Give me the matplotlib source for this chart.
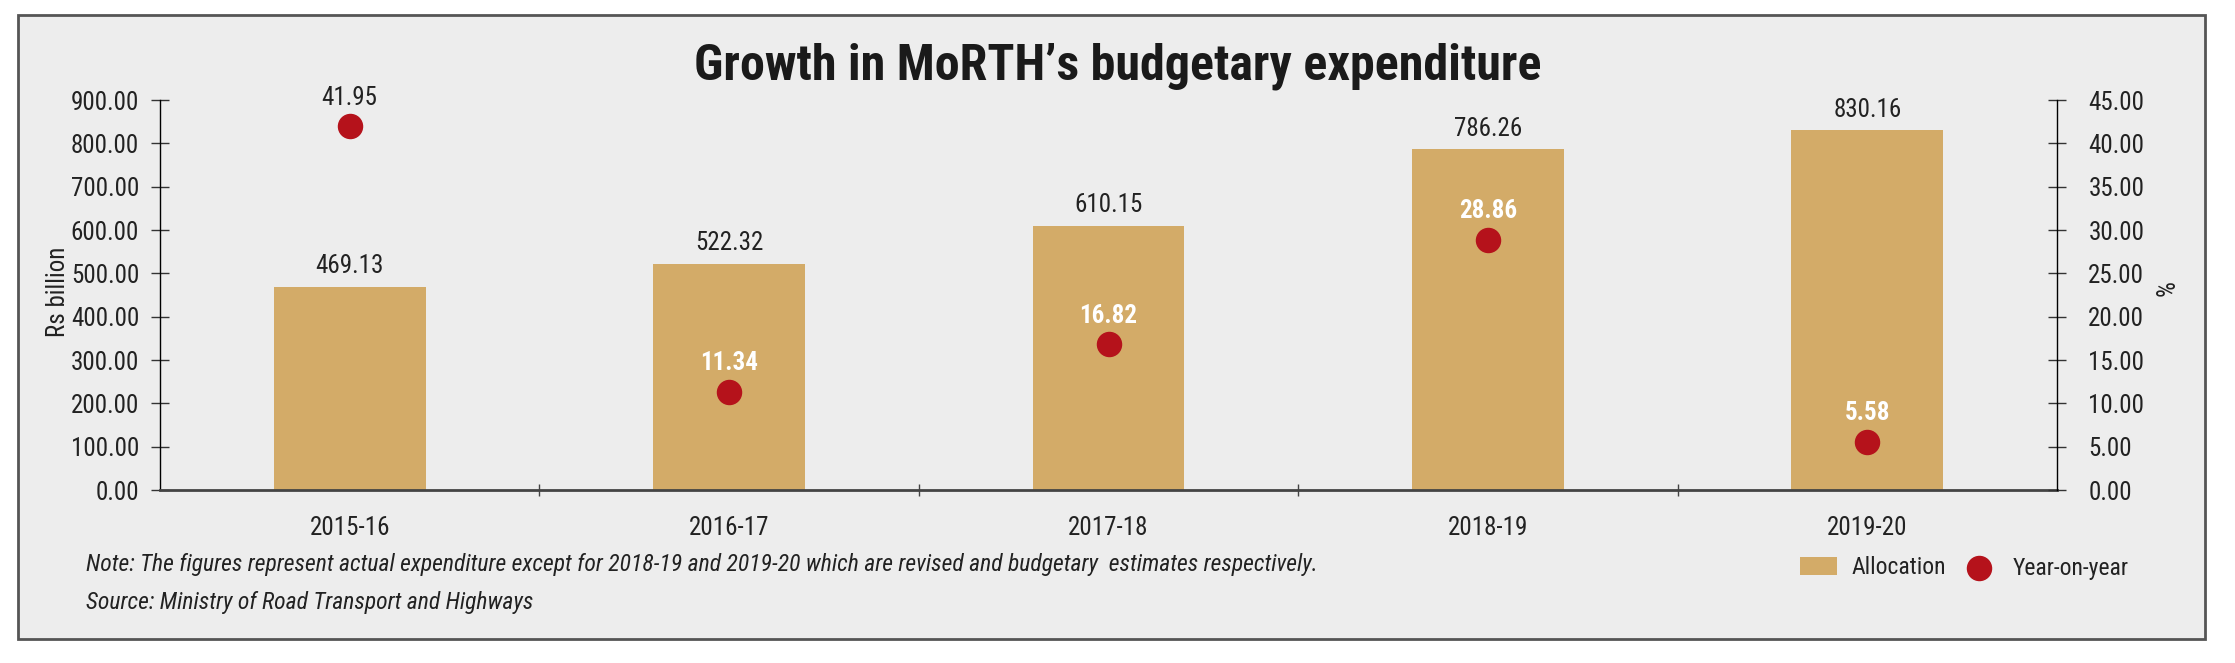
import numpy as np
import matplotlib
matplotlib.use("Agg")
import matplotlib.pyplot as plt
from matplotlib import font_manager
from matplotlib.patches import Rectangle

# data
years = ["2015-16", "2016-17", "2017-18", "2018-19", "2019-20"]
allocation = [469.13, 522.32, 610.15, 786.26, 830.16]   # Rs billion
yoy = [41.95, 11.34, 16.82, 28.86, 5.58]                # %

left_ticks = np.arange(0, 901, 100)
right_ticks = np.arange(0, 46, 5)

# pick a narrow font if there is one
names = {f.name for f in font_manager.fontManager.ttflist}
narrow = "DejaVu Sans"
for n in ["Liberation Sans Narrow", "Roboto Condensed", "Liberation Sans", "Arimo"]:
    if n in names:
        narrow = n
        break
is_narrow = narrow in ("Liberation Sans Narrow", "Roboto Condensed")
k = 1.0 if is_narrow else 0.82   # shrink text when no narrow face exists

plt.rcParams['font.family'] = [narrow, 'DejaVu Sans']

bar_col = '#D3AB68'
dot_col = '#B5121B'
txt_col = '#222222'
bg_col = '#EDEDED'

W, H = 2235, 663
fig = plt.figure(figsize=(W / 100, H / 100), dpi=100)
fig.patch.set_facecolor('white')

# grey panel with border
panel = Rectangle((18 / W, 1 - 639 / H), (2205 - 18) / W, (639 - 15) / H,
                  transform=fig.transFigure, facecolor=bg_col,
                  edgecolor='#555555', lw=2, zorder=-10)
fig.patches.append(panel)

ax = fig.add_axes([160 / W, 1 - 490 / H, (2057 - 160) / W, 390 / H])
ax.set_facecolor('none')
x = np.arange(len(years))
bars = ax.bar(x, allocation, width=0.4, color=bar_col, zorder=2, label='Allocation')
ax.set_xlim(-0.5, len(years) - 0.5)
ax.set_ylim(0, 900)
ax.set_yticks(left_ticks)
ax.set_yticklabels([f"{v:.2f}" for v in left_ticks])
ax.set_xticks(x)
ax.set_xticklabels(years)
ax.set_xticks(x[:-1] + 0.5, minor=True)
ax.tick_params(axis='x', which='major', length=0, pad=19, labelsize=18 * k, colors=txt_col)
ax.tick_params(axis='x', which='minor', direction='inout', length=8, width=1, color='#444444')
ax.tick_params(axis='y', direction='inout', length=13, width=1, pad=8.5,
               labelsize=18 * k, colors='#333333', labelcolor=txt_col)
for s in ['top', 'right']:
    ax.spines[s].set_visible(False)
ax.spines['bottom'].set_color('#444444')
ax.spines['bottom'].set_linewidth(2)
ax.spines['left'].set_color('black')
ax.spines['left'].set_linewidth(1)
ax.set_ylabel("Rs billion", fontsize=18 * k, color=txt_col)
ax.yaxis.label.set_va('center')
ax.yaxis.set_label_coords(58 / W, 1 - 292 / H, transform=fig.transFigure)

for xi, v in zip(x, allocation):
    ax.annotate(f"{v:.2f}", (xi, v), xytext=(0, 6), textcoords='offset points',
                ha='center', va='bottom', fontsize=18 * k, color=txt_col)

ax2 = ax.twinx()
ax2.set_ylim(0, 45)
ax2.set_yticks(right_ticks)
ax2.set_yticklabels([f"{v:.2f}" for v in right_ticks])
ax2.tick_params(axis='y', direction='inout', length=13, width=1, pad=16,
                labelsize=18 * k, colors='#333333', labelcolor=txt_col)
for s in ['top', 'left', 'bottom']:
    ax2.spines[s].set_visible(False)
ax2.spines['right'].set_color('black')
ax2.spines['right'].set_linewidth(1)
ax2.set_ylabel("%", fontsize=18 * k, color=txt_col, rotation=270)
ax2.yaxis.label.set_va('center')
ax2.yaxis.set_label_coords(2161 / W, 1 - 290 / H, transform=fig.transFigure)

dots = ax2.scatter(x, yoy, s=300, color=dot_col, zorder=4, label='Year-on-year')
for xi, v, a in zip(x, yoy, allocation):
    inside = v * 900 / 45 < a
    ax2.annotate(f"{v:.2f}", (xi, v), xytext=(0, 12), textcoords='offset points',
                 ha='center', va='bottom', fontsize=18 * k,
                 color='white' if inside else txt_col,
                 fontweight='bold' if inside else 'normal')

fig.text(0.5, 1 - 66 / H, "Growth in MoRTH\u2019s budgetary expenditure",
         ha='center', va='center', fontsize=36 * k, fontweight='heavy', color='#1a1a1a')

fig.text(86 / W, 1 - 565 / H,
         "Note: The figures represent actual expenditure except for 2018-19 and 2019-20 "
         "which are revised and budgetary  estimates respectively.",
         ha='left', va='center', fontsize=17 * k, style='italic', color=txt_col)
fig.text(86 / W, 1 - 603 / H, "Source: Ministry of Road Transport and Highways",
         ha='left', va='center', fontsize=17 * k, style='italic', color=txt_col)

fig.legend(handles=[bars, dots], loc='center right',
           bbox_to_anchor=(2140 / W, 1 - 568 / H), ncol=2, frameon=False,
           fontsize=17 * k, handlelength=1.6, handleheight=0.8,
           handletextpad=0.6, columnspacing=0.6, borderpad=0,
           labelcolor=txt_col)

fig.savefig("out.png", dpi=100, facecolor=fig.get_facecolor())
